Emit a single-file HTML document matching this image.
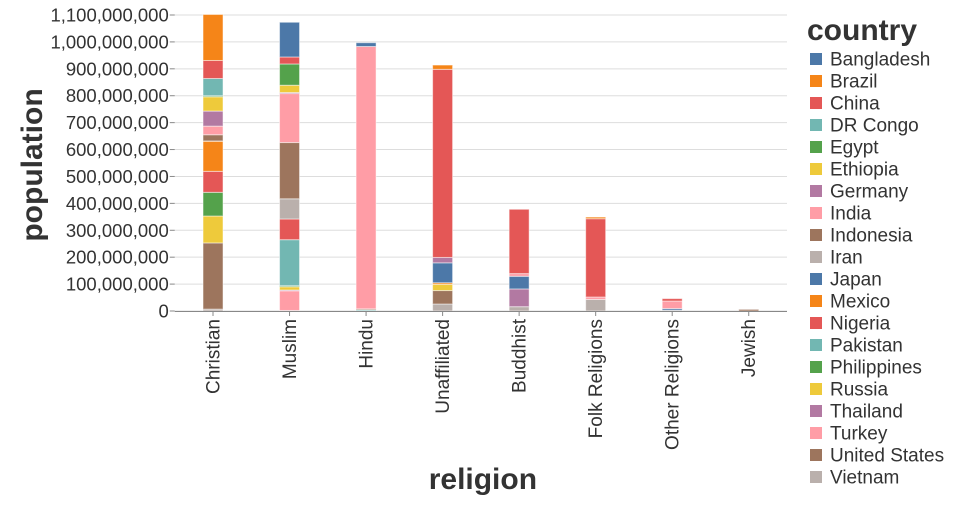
<!DOCTYPE html>
<html><head><meta charset="utf-8"><style>
body{margin:0;background:#fff;font-family:"Liberation Sans",sans-serif}
svg text{font-family:"Liberation Sans",sans-serif;fill:#333}
</style></head><body>
<svg id="chart" width="960" height="500"></svg>
<script>
const religions=["Christian","Muslim","Hindu","Unaffiliated","Buddhist","Folk Religions","Other Religions","Jewish"];
const countries=["Bangladesh","Brazil","China","DR Congo","Egypt","Ethiopia","Germany","India","Indonesia","Iran","Japan","Mexico","Nigeria","Pakistan","Philippines","Russia","Thailand","Turkey","United States","Vietnam"];
const colors=["#4c78a8","#f58518","#e45756","#72b7b2","#54a24b","#eeca3b","#b279a2","#ff9da6","#9d755d","#bab0ac","#4c78a8","#f58518","#e45756","#72b7b2","#54a24b","#eeca3b","#b279a2","#ff9da6","#9d755d","#bab0ac"];
// values in millions, per religion, in country order
const christian=[0,171,67,64,4,53,56,32,23,1,0,112,78,0,88,100,0,0,246,7];
const muslim=[129,0,26,0,79,27,4,182,209,75,0,0,77,171,4,12,3,73,0,2];
const hindu=[14,0,0,0,0,0,0,975,4,0,0,0,0,4,0,0,0,0,0,0];
const unaffiliated=[0,16,699,0,0,0,20,0,0,0,74,6,0,0,0,23,0,0,50,26];
const buddhist=[0,0,239,0,0,0,0,10,0,0,47,0,0,0,0,0,66,0,0,16];
const folk=[0,6,291,0,0,0,0,9,0,0,0,0,0,0,0,0,0,0,0,43];
const other=[0,0,9,0,0,0,0,28,0,0,6,0,0,0,0,0,0,0,0,3];
const jewish=[0,0,0,0,0,0,0,0,0,0,0,0,0,0,0,0,0,0,6,0];
const series=[christian,muslim,hindu,unaffiliated,buddhist,folk,other,jewish];
const yTicks=[0,100,200,300,400,500,600,700,800,900,1000,1100];

const NS="http://www.w3.org/2000/svg";
const svg=document.getElementById("chart");
const X0=174.75,X1=787,Y0=311,Y1=15,YMAX=1100;
const step=(X1-X0)/religions.length;
const xs=i=>X0+step*(i+0.5);
const ys=v=>Y0-(v/YMAX)*(Y0-Y1);
function mk(t,a,p){const e=document.createElementNS(NS,t);for(const k in a)e.setAttribute(k,a[k]);(p||svg).appendChild(e);return e;}
const fmt=v=>(v*1e6).toLocaleString("en-US");

const grid=mk("g",{});


yTicks.forEach(t=>{
  const l=mk("line",{x1:X0,x2:X1,y1:ys(t),y2:ys(t),stroke:"#ddd","stroke-width":1},grid);
  
  
  const tk=mk("line",{x1:X0-5,x2:X0,y1:ys(t),y2:ys(t),stroke:"#888"},grid);
  
  
  const tx=mk("text",{x:X0-6,y:ys(t)+6.5,"text-anchor":"end","font-size":"18.5"});
  tx.textContent=fmt(t);
  
  
});

religions.forEach((r,i)=>{
  let cum=0;
  for(let c=countries.length-1;c>=0;c--){
    const v=series[i][c]; if(!v) continue;
    const y1=ys(cum+v),y0=ys(cum);
    const rect=mk("rect",{x:xs(i)-10,y:y1,width:20,height:y0-y1,fill:colors[c],stroke:"#fff","stroke-opacity":0.5,"stroke-width":1});
    
    
    cum+=v;
  }
  const tk=mk("line",{x1:xs(i),x2:xs(i),y1:Y0,y2:Y0+5,stroke:"#888"});
  
  
  const tx=mk("text",{x:0,y:0,"text-anchor":"end","font-size":"19",transform:`translate(${xs(i)+6.5},${Y0+8}) rotate(-90)`});
  tx.textContent=r;
  
  
});
const ax=mk("line",{x1:X0,x2:X1,y1:Y0+0.5,y2:Y0+0.5,stroke:"#888"});



const yt=mk("text",{x:0,y:0,"text-anchor":"middle","font-size":"30","font-weight":"bold",transform:`translate(42,${(Y0+Y1)/2+2}) rotate(-90)`});
yt.textContent="population";


const xt=mk("text",{x:(X0+X1)/2+2,y:489,"text-anchor":"middle","font-size":"30","font-weight":"bold"});
xt.textContent="religion";



const lg=mk("g",{});


const lt=mk("text",{x:807,y:40,"font-size":"30","font-weight":"bold"},lg);
lt.textContent="country";


countries.forEach((c,i)=>{
  const y=59+i*22;
  const g=mk("g",{},lg);
  
  
  mk("rect",{x:810,y:y-6,width:12,height:12,fill:colors[i]},g);
  const t=mk("text",{x:830,y:y+6.5,"font-size":"19"},g);
  t.textContent=c;
});
</script>
</body></html>
